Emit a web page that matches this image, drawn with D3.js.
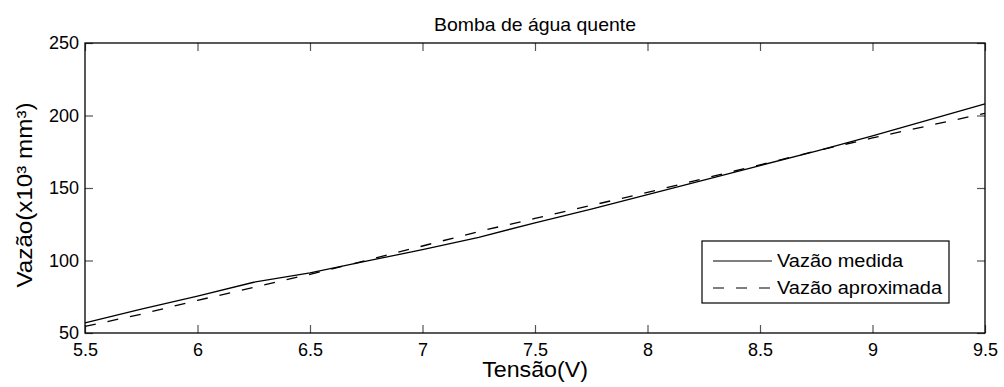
<!DOCTYPE html>
<html>
<head>
<meta charset="utf-8">
<script src="https://cdn.jsdelivr.net/npm/d3@7"></script>
<style>
  body { margin: 0; background: #fff; }
  text { font-family: "Liberation Sans", Arial, sans-serif; fill: #000; }
</style>
</head>
<body>
<script>
// tensões (V) onde as curvas foram lidas
var tensao = [5.5, 5.75, 6.0, 6.25, 6.5, 6.75, 7.0, 7.25, 7.5, 7.75, 8.0, 8.25, 8.5, 8.75, 9.0, 9.25, 9.5];
// vazão medida (x10^3 mm^3)
var vazaoMedida = [57, 66.5, 75.5, 85, 91.5, 99.5, 107.5, 116, 126, 135.5, 145.5, 155.5, 165.5, 175.5, 186, 197, 208];
// vazão aproximada
var vazaoAprox = [54.5, 63, 72.5, 81.5, 90.5, 100, 110, 120, 129, 138, 147, 156.5, 166, 175.5, 184.5, 193, 201.5];

var xTicks = [5.5, 6, 6.5, 7, 7.5, 8, 8.5, 9, 9.5];
var yTicks = [50, 100, 150, 200, 250];
var legendaNomes = ["Vazão medida", "Vazão aproximada"];

var width = 1004, height = 387;
var margin = {left: 85, right: 19, top: 43, bottom: 54};
var sx = 1.08; // letras um pouco esticadas na horizontal
var tracejado = "11,12";

var svg = d3.select("body").append("svg")
    .attr("width", width)
    .attr("height", height);

var x = d3.scaleLinear().domain([5.5, 9.5]).range([margin.left, width - margin.right]);
var y = d3.scaleLinear().domain([50, 250]).range([height - margin.bottom, margin.top]);

//ticks for dentro
var tk = 8;
var fmt = function(d){ return String(d); };

var axB = svg.append("g").attr("transform", "translate(0," + y(50) + ")")
    .call(d3.axisBottom(x).tickValues(xTicks).tickSize(-tk).tickFormat(fmt).tickPadding(10));
var axT = svg.append("g").attr("transform", "translate(0," + y(250) + ")")
    .call(d3.axisTop(x).tickValues(xTicks).tickSize(-tk).tickFormat(""));
var axL = svg.append("g").attr("transform", "translate(" + x(5.5) + ",0)")
    .call(d3.axisLeft(y).tickValues(yTicks).tickSize(-tk).tickFormat(fmt).tickPadding(6));
var axR = svg.append("g").attr("transform", "translate(" + x(9.5) + ",0)")
    .call(d3.axisRight(y).tickValues(yTicks).tickSize(-tk).tickFormat(""));

[axB, axT, axL, axR].forEach(function(a){
    a.select(".domain").remove();
    a.selectAll(".tick line").attr("stroke", "#555").attr("stroke-width", 1.2);
    a.selectAll(".tick text").attr("font-size", 18).attr("font-family", "Liberation Sans, Arial, sans-serif").attr("fill", "#000");
});
axB.selectAll(".tick text").attr("dy", "0.71em");
axL.selectAll(".tick text").attr("dy", "0.33em");

// caixa dos eixos
svg.append("rect")
    .attr("x", x(5.5)).attr("y", y(250))
    .attr("width", x(9.5) - x(5.5)).attr("height", y(50) - y(250))
    .attr("fill", "none").attr("stroke", "#000").attr("stroke-width", 1.3);

var line = d3.line()
    .x(function(d){ return x(d[0]); })
    .y(function(d){ return y(d[1]); });

svg.append("path")
    .datum(d3.zip(tensao, vazaoMedida))
    .attr("d", line)
    .attr("fill", "none").attr("stroke", "#000").attr("stroke-width", 1.3);

svg.append("path")
    .datum(d3.zip(tensao, vazaoAprox))
    .attr("d", line)
    .attr("fill", "none").attr("stroke", "#000").attr("stroke-width", 1.3)
    .attr("stroke-dasharray", tracejado);

// titulo
svg.append("text")
    .attr("transform", "translate(535,31) scale(" + sx + ",1)")
    .attr("text-anchor", "middle").attr("font-size", 18)
    .text("Bomba de água quente");

// rotulos
svg.append("text")
    .attr("transform", "translate(535,377) scale(" + sx + ",1)")
    .attr("text-anchor", "middle").attr("font-size", 21.5)
    .text("Tensão(V)");

svg.append("text")
    .attr("transform", "translate(32,195) rotate(-90) scale(1.1,1)")
    .attr("text-anchor", "middle").attr("font-size", 22)
    .text("Vazão(x10³ mm³)");

// legenda
var leg = svg.append("g");
leg.append("rect")
    .attr("x", 702).attr("y", 241).attr("width", 247).attr("height", 62)
    .attr("fill", "#fff").attr("stroke", "#000").attr("stroke-width", 1.2);

legendaNomes.forEach(function(nome, i){
    var ly = 261 + i * 27;
    leg.append("line")
        .attr("x1", 713).attr("x2", 772).attr("y1", ly).attr("y2", ly)
        .attr("stroke", "#000").attr("stroke-width", 1.2)
        .attr("stroke-dasharray", i === 1 ? tracejado : null);
    leg.append("text")
        .attr("transform", "translate(777," + (ly + 6) + ") scale(" + sx + ",1)")
        .attr("font-size", 18.5)
        .text(nome);
});
</script>
</body>
</html>
